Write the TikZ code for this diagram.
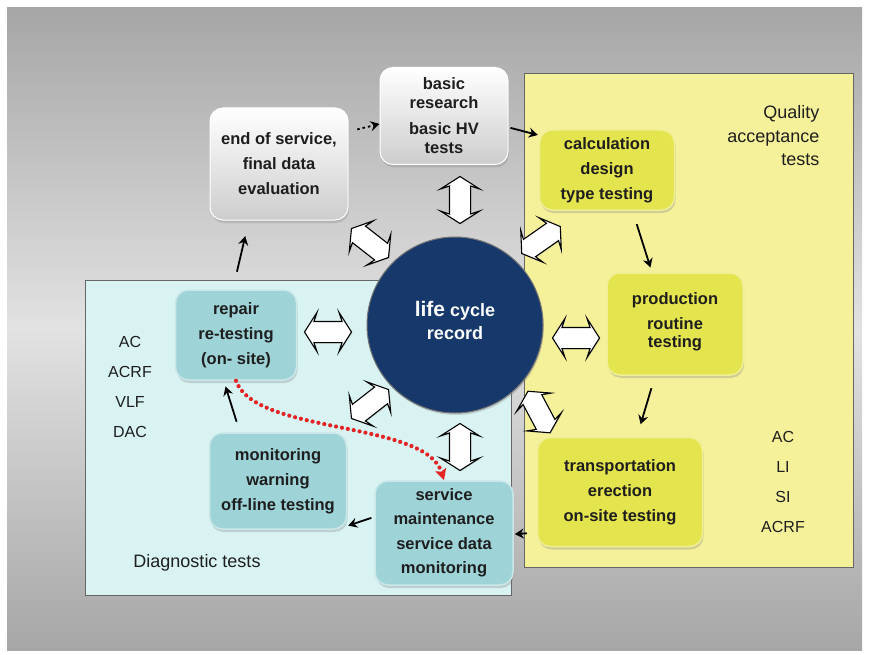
\documentclass[tikz,border=0pt]{standalone}
\usepackage{fontspec}
\setmainfont{Liberation Sans}
\usetikzlibrary{shapes.arrows,arrows.meta,shadows,calc}

\definecolor{cyanpanel}{RGB}{216,243,242}
\definecolor{yellowpanel}{RGB}{245,241,155}
\definecolor{cyanbox}{RGB}{158,211,215}
\definecolor{yellowbox}{RGB}{228,228,78}
\definecolor{navy}{RGB}{22,56,107}
\definecolor{bgdark}{RGB}{166,166,166}
\definecolor{bglight}{RGB}{226,226,226}
\definecolor{reddot}{RGB}{228,36,36}
\definecolor{txt}{RGB}{30,30,30}
\definecolor{wboxbottom}{RGB}{205,205,205}

\begin{document}
\begin{tikzpicture}[x=1pt,y=-1pt,
  box/.style={rounded corners=13pt, align=center, text=txt,
    font=\bfseries\fontsize{16.5}{25}\selectfont, inner sep=0pt,
    drop shadow={shadow xshift=1pt, shadow yshift=-3pt, opacity=0.3}},
  wbox/.style={box, top color=white, bottom color=wboxbottom, draw=white, line width=1pt},
  ybox/.style={box, fill=yellowbox, draw=yellowbox!60!white, line width=1.5pt},
  cbox/.style={box, fill=cyanbox, draw=cyanbox!55!white, line width=1.5pt},
  panel/.style={draw=black!60, line width=1pt, inner sep=0pt},
  darrow/.style={double arrow, draw=black, fill=white, line width=1.1pt,
    minimum height=47pt, inner xsep=0pt, inner ysep=10pt,
    double arrow head extend=9pt, double arrow tip angle=115,
    double arrow head indent=3pt,
    drop shadow={shadow xshift=0.8pt, shadow yshift=-1pt, opacity=0.25}},
  flow/.style={draw=black, line width=1.8pt, -{Stealth[length=9pt,width=10pt,inset=3pt]}},
  reddotted/.style={draw=reddot, line width=4.2pt, dash pattern=on 0pt off 6pt,
    line cap=round, -{Stealth[length=11pt,width=11pt,inset=2pt]}},
  lbl/.style={font=\fontsize{16}{30}\selectfont, text=txt, align=center}
]
\useasboundingbox (0,0) rectangle (869,655);
\fill[white] (0,0) rectangle (869,655);
\shade[top color=bgdark, bottom color=bgdark, middle color=bglight] (7,8) rectangle (862,650);

% panels
\node[panel, fill=cyanpanel, minimum width=426pt, minimum height=315pt] (diagpanel) at (298,437.5) {};
\node[panel, fill=yellowpanel, minimum width=329pt, minimum height=493pt] (qualpanel) at (688.5,320.5) {};

% block double arrows
\node[darrow, rotate=90] (aup) at (460,200) {};
\node[darrow, rotate=-38] (anw) at (370,243) {};
\node[darrow, rotate=35] (ane) at (541,240) {};
\node[darrow] (aleft) at (328,332) {};
\node[darrow] (aright) at (576,338) {};
\node[darrow, rotate=38] (asw) at (370,404) {};
\node[darrow, rotate=-62] (ase) at (539,412) {};
\node[darrow, rotate=90] (adown) at (460,447) {};

% boxes
\node[wbox, minimum width=128pt, minimum height=97pt,
  font=\bfseries\fontsize{16.5}{19}\selectfont] (basic) at (444,116)
  {basic\\research\\[7pt]basic HV\\tests};
\node[wbox, minimum width=138pt, minimum height=112pt] (end) at (279,164)
  {end of service,\\final data\\evaluation};
\node[ybox, minimum width=135pt, minimum height=80pt] (calc) at (607,170)
  {calculation\\design\\type testing};
\node[ybox, minimum width=136pt, minimum height=102pt,
  font=\bfseries\fontsize{16.5}{18.5}\selectfont] (prod) at (675,324)
  {production\\[6.5pt]routine\\testing\rule[-8pt]{0pt}{0pt}};
\node[ybox, minimum width=165pt, minimum height=109pt] (trans) at (620,492)
  {transportation\\erection\\on-site testing};
\node[cbox, minimum width=138pt, minimum height=104pt,
  font=\bfseries\fontsize{16.5}{24.5}\selectfont] (service) at (444,533)
  {service\\maintenance\\service data\\monitoring};
\node[cbox, minimum width=137pt, minimum height=96pt] (monit) at (278,481)
  {monitoring\\warning\\off-line testing};
\node[cbox, minimum width=121pt, minimum height=90pt] (repair) at (236,335)
  {repair\\re-testing\\(on- site)};

% central circle
\node[circle, fill=navy, draw=black!55, line width=1pt, minimum size=176pt,
  text=white, align=center, font=\bfseries\fontsize{18}{23}\selectfont,
  drop shadow={shadow xshift=1pt, shadow yshift=-2pt, opacity=0.3}] (lcr) at (455,325)
  {{\fontsize{21}{23}\selectfont life} cycle\\record\rule[-9pt]{0pt}{0pt}};

% connectors
\draw[flow, dash pattern=on 2.5pt off 3pt, shorten <=9pt] (end.25) -- (basic.187);
\draw[flow, shorten <=2pt, shorten >=1pt] (basic.-10) -- (calc.153);
\draw[flow, shorten <=14pt, shorten >=5pt] (calc.-58) -- (prod.114);
\draw[flow, shorten <=13pt, shorten >=13pt] (prod.-111) -- (trans.73);
\draw[flow, shorten <=10pt, shorten >=1pt] (trans.206) -- (service.-1);
\draw[flow, shorten <=3pt, shorten >=1pt] (service.167) -- (monit.-33);
\draw[flow, shorten <=11pt, shorten >=6pt] (monit.128) -- (repair.-105);
\draw[flow, shorten <=18pt, shorten >=16pt] (repair.94) -- (end.-118);
\draw[reddotted] (repair.south) .. controls (255,435) and (425,420) .. (service.north);

% labels
\node[lbl] (diagcodes) at (130,387) {AC\\ACRF\\VLF\\DAC};
\node[lbl] (qualcodes) at (783,482) {AC\\LI\\SI\\ACRF};
\node[font=\fontsize{18}{23.5}\selectfont, align=right, text=txt, anchor=east] (qualtitle) at (823,136)
  {Quality\\acceptance\\tests};
\node[font=\fontsize{18}{22}\selectfont, text=txt] (diagtitle) at (197,563) {Diagnostic tests};
\end{tikzpicture}
\end{document}
